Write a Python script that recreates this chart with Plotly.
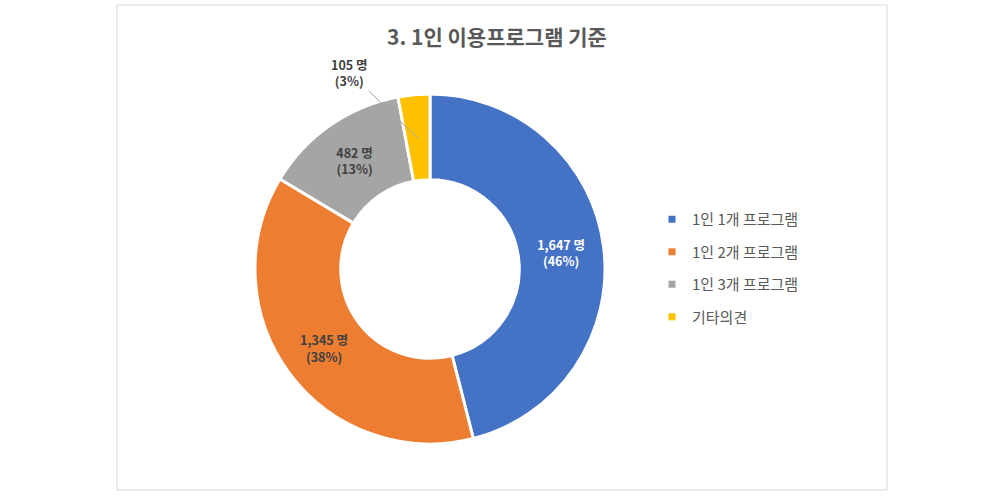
import math
import plotly.graph_objects as go

# 1인 이용프로그램 기준 응답 수
labels = ['1인 1개 프로그램', '1인 2개 프로그램', '1인 3개 프로그램', '기타의견']
counts = [1647, 1345, 482, 105]
pcts = [46, 38, 13, 3]
colors = ['#4472C4', '#ED7D31', '#A5A5A5', '#FFC000']

W, H = 992, 497
FONT = 'Noto Sans CJK KR'


def px(X):
    return X / W


def py(Y):
    return 1 - Y / H


texts = [f'<b>{c:,} 명<br>({p}%)</b>' for c, p in zip(counts, pcts)]
# last (small) slice gets its label with a leader line instead
inside_texts = texts[:3] + ['']

# pie placement (screen pixels)
left, right, top, bottom = 255, 605, 93, 445
hole = 0.51

fig = go.Figure()
fig.add_trace(go.Pie(
    labels=labels,
    values=counts,
    text=inside_texts,
    textinfo='text',
    textposition=['inside', 'inside', 'inside', 'none'],
    insidetextorientation='horizontal',
    textfont=dict(family=FONT, size=12.5,
                  color=['#FFFFFF', '#404040', '#404040', '#404040']),
    marker=dict(colors=colors, line=dict(color='white', width=3)),
    hole=hole,
    sort=False,
    direction='clockwise',
    rotation=0,
    showlegend=False,
    domain=dict(x=[px(left), px(right)], y=[py(bottom), py(top)]),
))

# legend entries as separate dummy traces so the row spacing can be set
for i, (lab, col) in enumerate(zip(labels, colors)):
    fig.add_trace(go.Scatter(
        x=[None], y=[None], mode='markers', name=lab,
        marker=dict(symbol='square', size=7, color=col),
        legendgroup=f'g{i}', showlegend=True,
    ))

# leader-line label for the small slice, pointing at its mid-angle
total = sum(counts)
cx, cy = (left + right) / 2, (top + bottom) / 2
r_out = (right - left) / 2 - 1
r_mid = r_out * (1 + hole) / 2
cum = sum(counts[:3]) + counts[3] / 2
theta = 2 * math.pi * cum / total
tip_x = cx + r_mid * math.sin(theta)
tip_y = cy - r_mid * math.cos(theta)
lab_x, lab_y = 349, 72

fig.add_annotation(
    x=px(tip_x), y=py(tip_y), xref='paper', yref='paper',
    ax=lab_x - tip_x, ay=lab_y - tip_y,
    text=texts[3], showarrow=True, arrowhead=0, arrowwidth=1,
    arrowcolor='#A6A6A6', standoff=0, startstandoff=0,
    font=dict(family=FONT, size=12.5, color='#404040'),
)

fig.update_layout(
    width=W, height=H,
    margin=dict(l=0, r=0, t=0, b=0),
    paper_bgcolor='white',
    plot_bgcolor='white',
    xaxis=dict(visible=False),
    yaxis=dict(visible=False),
    title=dict(text='<b>3. 1인 이용프로그램 기준</b>', x=px(497), xanchor='center',
               y=py(38), yanchor='middle',
               font=dict(family=FONT, size=21, color='#595959')),
    legend=dict(x=px(652), y=py(203), xanchor='left', yanchor='top',
                font=dict(family=FONT, size=15, color='#595959'),
                tracegroupgap=10, itemwidth=30, bgcolor='rgba(0,0,0,0)'),
    shapes=[dict(type='rect', xref='paper', yref='paper',
                 x0=px(117), x1=px(887), y0=py(490), y1=py(5),
                 line=dict(color='#D9D9D9', width=1))],
    showlegend=True,
)

# drop the default page margin so the figure sits at the window corner
fig.write_html('out.html',
               config={'displayModeBar': False},
               post_script="document.body.style.margin='0px';"
                           "document.body.style.overflow='hidden';")
